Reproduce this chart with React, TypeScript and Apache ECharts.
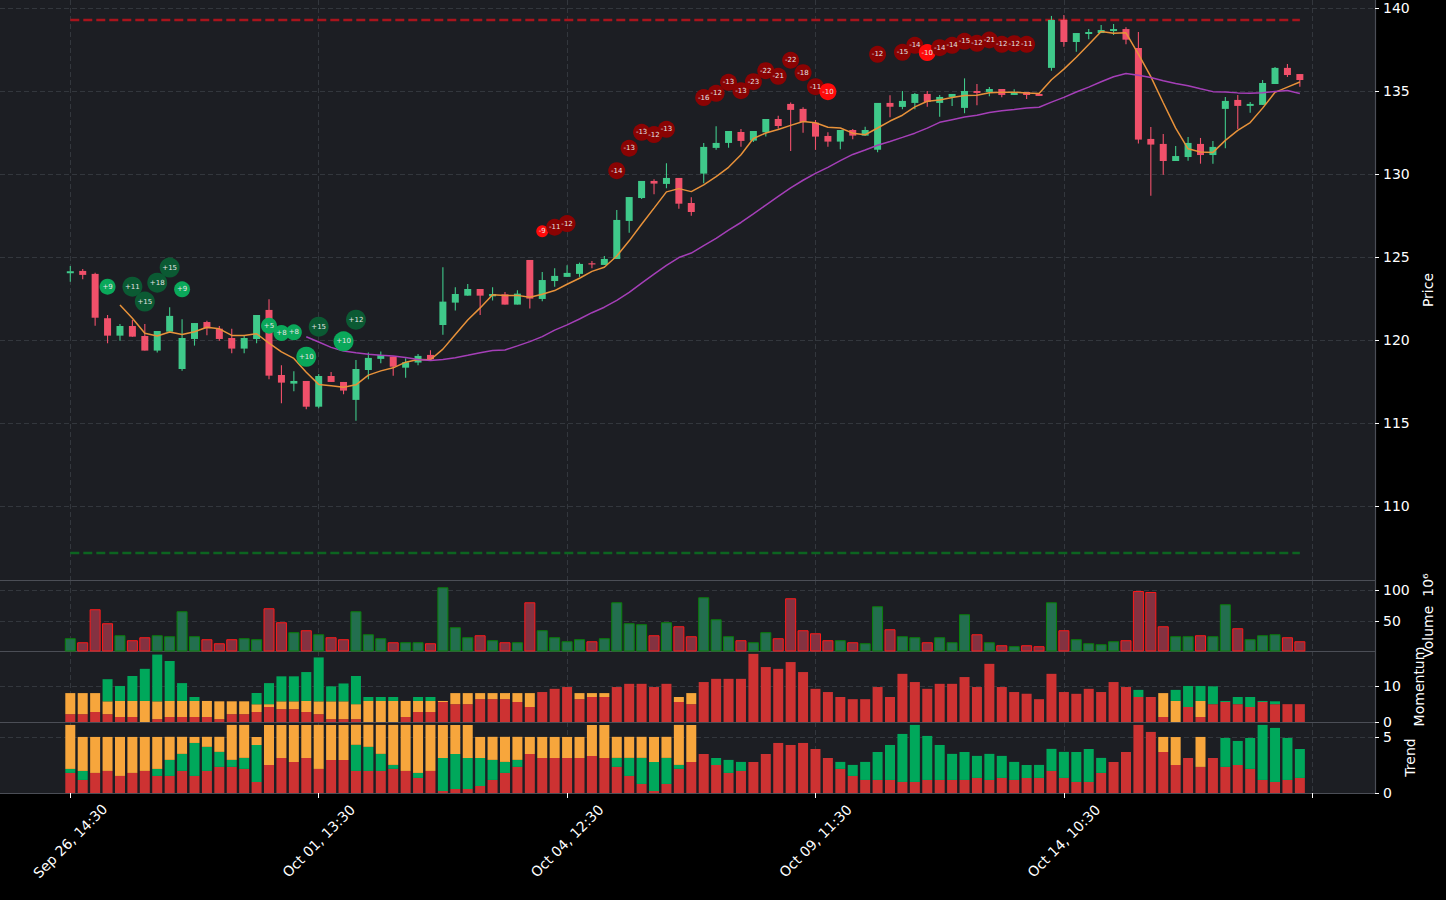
import React, { useEffect, useRef } from "react";
import * as echarts from "echarts";

// ---- data ----
const tickLabels = ["Sep 26, 14:30", "Oct 01, 13:30", "Oct 04, 12:30", "Oct 09, 11:30", "Oct 14, 10:30"];
const tickIdx = [0, 20, 40, 60, 80, 100];
const labelIdx = [0, 20, 40, 60, 80];

const open = [124.02,124.16,123.98,121.31,120.26,120.84,120.24,119.36,120.50,118.25,120.06,121.08,120.68,120.12,119.48,120.06,121.81,117.89,117.37,117.53,115.98,117.83,117.47,116.39,118.19,118.86,119.00,118.33,118.64,119.10,120.90,122.25,122.67,123.07,122.63,122.75,122.13,124.82,122.47,123.55,123.80,123.98,124.62,124.52,124.88,127.17,128.55,129.58,129.40,129.76,128.25,130.02,131.57,131.87,132.53,132.01,132.51,133.31,134.22,133.92,133.09,132.29,131.95,132.65,132.31,131.46,134.28,134.04,134.28,134.82,134.28,134.64,133.98,135.00,134.94,135.12,134.76,134.94,134.82,136.39,139.28,137.95,138.43,138.49,138.61,138.73,137.59,132.11,131.81,130.78,131.02,131.81,131.14,133.92,134.46,134.10,134.16,135.42,136.39,136.02];
const close = [124.14,123.92,121.34,120.26,120.84,120.20,119.36,120.54,121.45,120.12,121.02,120.70,120.06,119.48,120.12,121.51,117.85,117.43,117.53,115.98,117.83,117.47,116.95,118.25,118.92,119.10,118.39,118.66,119.04,118.84,122.31,122.77,123.07,122.67,122.77,122.13,122.79,122.49,123.61,123.86,124.04,124.58,124.56,124.88,127.23,128.61,129.58,129.42,129.76,128.21,127.71,131.63,131.87,132.59,131.99,132.59,133.31,132.89,133.86,133.13,132.25,131.95,132.65,132.31,132.65,134.28,134.05,134.40,134.82,134.34,134.64,134.82,135.00,134.88,135.12,134.76,134.88,134.76,134.70,139.28,137.95,138.49,138.55,138.67,138.73,138.09,132.07,131.77,130.78,131.08,131.87,131.14,131.63,134.40,134.10,134.22,135.48,136.39,135.96,135.66];
const low = [123.51,123.66,120.86,119.80,119.96,120.20,119.36,119.24,120.50,118.15,119.66,120.28,119.96,119.20,119.20,119.80,117.63,116.19,116.91,115.83,115.89,117.47,116.73,115.14,117.63,118.60,117.85,117.73,118.48,118.84,120.32,121.77,122.67,121.51,122.37,122.13,122.13,121.89,122.33,123.21,123.80,123.80,124.32,124.52,124.88,126.46,128.49,128.78,129.14,127.91,127.49,129.44,131.46,131.58,131.64,131.93,132.25,132.73,131.39,132.49,131.45,131.64,131.49,132.09,132.31,131.31,133.42,133.90,133.90,134.05,133.45,134.10,133.66,134.14,134.68,134.62,134.76,134.52,134.70,136.22,137.67,137.37,138.11,138.49,138.37,137.81,131.83,128.69,129.96,130.78,130.80,130.62,130.62,131.55,132.71,133.69,134.16,135.42,135.84,135.26];
const high = [124.46,124.28,124.05,121.51,120.96,121.20,120.96,120.54,121.97,121.25,121.02,121.16,120.84,120.68,120.30,121.51,122.45,118.48,118.11,117.53,117.95,118.07,117.47,118.80,119.24,119.30,119.00,118.90,119.16,119.38,124.38,123.17,123.37,123.07,123.17,122.89,122.99,124.82,124.10,124.32,124.50,124.66,124.76,125.06,127.83,128.61,129.58,129.68,130.64,129.76,128.60,131.87,132.87,132.59,132.71,132.59,133.31,133.51,134.30,134.02,133.25,132.51,132.65,132.71,132.85,134.28,134.74,135.00,134.88,135.00,134.76,134.82,135.76,135.42,135.24,135.12,135.10,134.94,134.82,139.52,139.58,138.49,138.73,138.98,139.04,138.84,138.55,132.83,132.41,131.69,132.23,132.17,131.99,134.64,134.76,134.34,135.66,136.45,136.63,136.02];

const volume = [22.6,16.1,69.4,46.8,27.4,19.4,24.2,27.4,25.8,66.1,25.8,21.0,14.5,21.0,22.6,21.0,71.0,48.4,32.3,35.5,29.0,24.2,21.0,66.1,29.0,22.6,16.1,16.1,16.1,14.5,104.8,40.3,24.2,27.4,19.4,16.1,16.1,80.6,35.5,24.2,17.7,21.0,17.7,22.6,80.6,46.8,45.2,27.4,48.4,41.9,25.8,88.7,53.2,25.8,19.4,16.1,32.3,22.6,87.1,35.5,30.6,19.4,19.4,16.1,14.5,74.2,37.1,25.8,24.2,16.1,24.2,16.1,61.3,29.0,16.1,11.3,9.7,11.3,9.7,80.6,35.5,21.0,14.5,12.9,17.7,19.4,98.9,97.3,41.9,25.8,25.8,27.4,25.8,77.4,38.7,21.0,27.4,29.0,24.2,17.7];

const momRed = [2.2,2.2,2.8,2.2,1.4,1.4,0,0.8,1.4,1.4,1.4,1.4,0.8,2.2,2.2,2.8,4.2,3.6,3.6,2.8,2.2,0.8,0.8,0.8,0,0,0,1.4,2.8,2.8,5.6,5.0,5.0,6.4,6.4,6.4,5.6,4.2,8.4,9.3,9.8,6.4,7.0,7.0,9.8,10.7,10.7,9.8,10.7,5.6,5.0,11.2,12.1,12.1,12.1,19.1,15.4,14.9,16.8,14.0,9.3,8.4,7.0,6.4,6.4,9.8,7.0,13.5,11.2,9.3,10.7,10.7,12.6,9.8,16.3,9.8,8.4,7.9,6.4,13.5,8.4,7.9,9.3,8.4,11.2,9.8,7.0,7.0,1.4,0,4.2,1.4,5.0,5.6,5.0,4.2,5.6,5.0,5.0,5.0];
const momOrange = [5.9,5.9,5.3,3.6,4.5,4.5,5.9,5.0,4.5,4.5,4.5,4.5,5.0,3.6,3.6,2.2,0.8,2.2,2.2,3.1,3.6,5.0,5.0,4.2,5.9,5.9,5.9,4.5,3.1,3.1,0.3,3.1,3.1,1.7,1.7,1.7,2.5,3.9,0,0,0,1.7,1.1,1.1,0,0,0,0,0,1.4,3.1,0,0,0,0,0,0,0,0,0,0,0,0,0,0,0,0,0,0,0,0,0,0,0,0,0,0,0,0,0,0,0,0,0,0,0,0,0,6.7,5.9,0,4.5,0,0,0,0,0,0,0,0];
const momGreen = [0,0,0,6.2,4.2,7.0,9.0,13.1,11.2,5.0,1.1,0,0,0,0,3.1,5.9,7.0,7.0,8.1,12.3,4.2,5.0,7.9,1.1,1.1,1.1,0,1.1,1.1,0,0,0,0,0,0,0,0,0,0,0,0,0,0,0,0,0,0,0,0,0,0,0,0,0,0,0,0,0,0,0,0,0,0,0,0,0,0,0,0,0,0,0,0,0,0,0,0,0,0,0,0,0,0,0,0,2.0,0,0,3.1,5.9,4.2,5.0,0.3,2.0,2.8,0.3,0.8,0,0];

const trendRed = [1.80,1.17,1.80,1.98,1.53,1.80,1.98,1.53,1.53,1.98,1.53,1.98,2.34,2.34,2.16,0.99,2.51,3.14,2.78,3.14,2.16,2.96,2.96,1.98,1.98,1.98,2.16,1.98,1.35,1.98,0.18,0.36,0.36,0.63,1.17,1.80,2.34,3.50,3.14,3.14,3.14,3.14,3.32,3.14,2.34,1.53,0.81,0.18,0.81,2.16,2.78,3.50,2.51,1.80,1.98,2.78,3.50,4.49,4.31,4.49,3.95,3.14,2.16,1.53,1.17,1.17,1.17,0.99,0.99,1.17,1.17,1.17,1.17,1.35,1.17,1.35,1.17,1.35,1.35,1.98,1.35,0.99,0.99,1.80,2.78,3.68,6.11,5.48,3.68,2.51,3.14,2.34,3.14,2.34,2.51,2.16,1.17,0.99,1.17,1.35];
const trendGreen = [0.36,0.81,0,0,0,0,0,0.63,1.44,1.53,2.96,2.16,1.35,0.63,0.99,3.32,0,0,0,0,0,0,0,2.34,2.16,1.53,0.36,0,0.45,0,2.96,3.14,2.78,2.51,1.80,0.99,0.63,0,0,0,0,0,0,0,0.81,1.62,2.34,2.60,2.34,0.36,0,0,0.63,1.17,0.81,0,0,0,0,0,0,0,0.63,0.99,1.62,2.51,3.14,4.31,5.12,3.95,3.14,2.34,2.51,1.98,2.34,1.98,1.62,1.17,1.17,1.98,2.34,2.69,2.96,1.35,0,0,0,0,0,0,0,0,0,2.60,2.16,2.78,4.94,4.85,3.77,2.60];
const trendOrange = [3.95,3.05,3.23,3.05,3.50,3.23,3.05,2.87,2.07,1.53,0.54,0.90,1.35,3.14,2.96,0.72,3.59,2.96,3.32,2.96,3.95,3.14,3.14,1.80,1.98,2.60,3.59,4.13,4.31,4.13,2.96,2.60,2.96,1.89,2.07,2.25,2.07,1.53,1.89,1.89,1.89,1.89,2.78,2.96,1.89,1.89,1.89,2.25,1.89,3.59,3.32,0,0,0,0,0,0,0,0,0,0,0,0,0,0,0,0,0,0,0,0,0,0,0,0,0,0,0,0,0,0,0,0,0,0,0,0,0,1.35,2.51,0,2.69,0,0,0,0,0,0,0,0];

const buySigIdx = [3, 5, 6, 7, 8, 9, 16, 17, 18, 19, 20, 22, 23];
const buySigPrice = [123.21, 123.21, 122.31, 123.45, 124.36, 123.05, 120.86, 120.42, 120.46, 118.99, 120.80, 119.92, 121.22];
const buySigVal = [9, 11, 15, 18, 15, 9, 5, 8, 8, 10, 15, 10, 12];

const sellSigIdx = [38, 39, 40, 44, 45, 46, 47, 48, 51, 52, 53, 54, 55, 56, 57, 58, 59, 60, 61, 65, 67, 68, 69, 70, 71, 72, 73, 74, 75, 76, 77];
const sellSigPrice = [126.55, 126.79, 127.01, 130.20, 131.55, 132.51, 132.37, 132.69, 134.60, 134.86, 135.52, 135.02, 135.56, 136.22, 135.88, 136.85, 136.10, 135.26, 134.96, 137.21, 137.33, 137.75, 137.31, 137.61, 137.75, 137.99, 137.87, 138.07, 137.81, 137.85, 137.81];
const sellSigVal = [-9, -11, -12, -14, -13, -13, -12, -13, -16, -12, -13, -13, -23, -22, -21, -22, -18, -11, -10, -12, -15, -14, -10, -14, -14, -15, -12, -21, -12, -12, -11];

const resistance = 139.28;
const support = 107.17;

// ---- styling ----
const FONT = "DejaVu Sans";
const TXT = "#ffffff";
const GRIDC = "#3a3d44";
const SPINE = "#4b4e56";
const UP = "#3fc98a";
const DOWN = "#f0506a";
const RED = "#cd3232";
const ORANGE = "#f7a63c";
const GREEN = "#00a85b";
const X_MIN = -5.66;
const X_MAX = 105.05;

function sma(arr: number[], n: number) {
  const out: [number, number][] = [];
  for (let i = n - 1; i < arr.length; i++) {
    let s = 0;
    for (let k = i - n + 1; k <= i; k++) s += arr[k];
    out.push([i, s / n]);
  }
  return out;
}

export default function App() {
  const ref = useRef<HTMLDivElement>(null);
  useEffect(() => {
    if (!ref.current) return;
    const chart = echarts.init(ref.current, null, { renderer: "svg" });

    const grids = [
      { left: 0, top: 0, width: 1375, height: 580 },
      { left: 0, top: 580, width: 1375, height: 71 },
      { left: 0, top: 651, width: 1375, height: 71 },
      { left: 0, top: 722, width: 1375, height: 71 },
    ];

    const xAxes = grids.map((_, gi) => ({
      type: "value",
      gridIndex: gi,
      min: X_MIN,
      max: X_MAX,
      axisLine: { show: true, onZero: false, lineStyle: { color: SPINE, width: 1.2 } },
      axisTick: { show: gi === 3, customValues: tickIdx, length: 5, lineStyle: { color: TXT } },
      axisLabel: {
        show: gi === 3,
        customValues: labelIdx,
        formatter: (v: number) => tickLabels[Math.round(v / 20)] ?? "",
        rotate: 45,
        align: "center",
        verticalAlign: "middle",
        margin: 48,
        color: TXT,
        fontSize: 14,
        fontFamily: FONT,
      },
      splitLine: { show: true, lineStyle: { color: GRIDC, type: [5, 3], width: 0.8 } },
    }));

    const yBase = (gi: number, min: number, max: number, vals: number[], name: string, gap: number) => ({
      type: "value",
      gridIndex: gi,
      position: "right",
      min,
      max,
      name,
      nameLocation: "middle",
      nameRotate: 90,
      nameGap: gap,
      nameTextStyle: { color: TXT, fontSize: 14, fontFamily: FONT },
      axisLine: { show: true, onZero: false, lineStyle: { color: SPINE, width: 1.2 } },
      axisTick: { show: true, customValues: vals, length: 4, lineStyle: { color: TXT } },
      axisLabel: { show: true, customValues: vals, margin: 8, color: TXT, fontSize: 14, fontFamily: FONT },
      splitLine: { show: true, lineStyle: { color: GRIDC, type: [5, 3], width: 0.8 } },
    });

    const yAxes = [
      yBase(0, 105.54, 140.48, [110, 115, 120, 125, 130, 135, 140], "Price", 37),
      yBase(1, 2, 116.6, [50, 100], "Volume  10\u2076", 40),
      yBase(2, 0, 19.9, [0, 10], "Momentum", 27),
      yBase(3, 0, 6.37, [0, 5], "Trend", 20),
    ];

    const candleData = open.map((o, i) => [i, o, close[i], low[i], high[i]]);

    const candles = {
      type: "custom",
      xAxisIndex: 0,
      yAxisIndex: 0,
      z: 3,
      clip: true,
      encode: { x: 0, y: [1, 2, 3, 4] },
      data: candleData,
      renderItem: (params: any, api: any) => {
        const x = api.value(0);
        const o = api.value(1);
        const c = api.value(2);
        const l = api.value(3);
        const h = api.value(4);
        const pO = api.coord([x, o]);
        const pC = api.coord([x, c]);
        const pL = api.coord([x, l]);
        const pH = api.coord([x, h]);
        const color = c >= o ? UP : DOWN;
        const w = 7;
        const top = Math.min(pO[1], pC[1]);
        const hh = Math.max(1.2, Math.abs(pO[1] - pC[1]));
        return {
          type: "group",
          children: [
            { type: "line", shape: { x1: pH[0], y1: pH[1], x2: pL[0], y2: pL[1] }, style: { stroke: color, lineWidth: 1.1 } },
            { type: "rect", shape: { x: pO[0] - w / 2, y: top, width: w, height: hh }, style: { fill: color } },
          ],
        };
      },
    };

    const bubbleSeries = (idx: number[], price: number[], val: number[], buy: boolean) => ({
      type: "scatter",
      xAxisIndex: 0,
      yAxisIndex: 0,
      z: 6,
      data: idx.map((x, k) => [x, price[k], val[k]]),
      symbolSize: (d: number[]) => {
        const a = Math.abs(d[2]);
        if (buy) return a >= 10 ? 20 : 16;
        return a < 10 ? 12 : 17;
      },
      itemStyle: {
        opacity: 1,
        color: (p: any) => {
          const a = Math.abs(p.data[2]);
          if (buy) return a > 10 ? "#0b5a33" : "#0aa85a";
          return a > 10 ? "#8a0303" : "#ff0a0a";
        },
      },
      label: {
        show: true,
        position: "inside",
        formatter: (p: any) => (p.data[2] > 0 ? "+" + p.data[2] : String(p.data[2])),
        color: "#e4e4e4",
        fontSize: 7,
        fontFamily: FONT,
      },
      emphasis: { disabled: true },
    });

    const hLine = (v: number, color: string) => ({
      type: "line",
      xAxisIndex: 0,
      yAxisIndex: 0,
      z: 2,
      data: [[0, v], [99, v]],
      showSymbol: false,
      lineStyle: { color, width: 2.5, type: [9, 4] },
    });

    const volData = volume.map((v, i) => ({
      value: [i, v],
      itemStyle: close[i] >= open[i]
        ? { color: "#236f4f", borderColor: "#0a800a", borderWidth: 1 }
        : { color: "#843241", borderColor: "#ff1a1a", borderWidth: 1 },
    }));

    // stacked bars, bottom-to-top in the order of the given arrays/colours
    const stacked = (gi: number, parts: number[][], colors: string[]) => ({
      type: "custom",
      xAxisIndex: gi,
      yAxisIndex: gi,
      clip: true,
      encode: { x: 0, y: 1 },
      data: parts[0].map((_, i) => [i, ...parts.map((p) => p[i])]),
      renderItem: (params: any, api: any) => {
        const x = api.value(0);
        let base = 0;
        const children: any[] = [];
        colors.forEach((col, k) => {
          const v = api.value(k + 1);
          if (v > 0) {
            const p0 = api.coord([x, base]);
            const p1 = api.coord([x, base + v]);
            children.push({
              type: "rect",
              shape: { x: p0[0] - 5, y: p1[1], width: 10, height: p0[1] - p1[1] },
              style: { fill: col },
            });
          }
          base += v;
        });
        return { type: "group", children };
      },
    });

    chart.setOption({
      animation: false,
      backgroundColor: "#000000",
      grid: grids.map((g) => ({ ...g, show: true, backgroundColor: "#1c1e23", borderWidth: 0 })),
      xAxis: xAxes,
      yAxis: yAxes,
      series: [
        hLine(resistance, "#a8141c"),
        hLine(support, "#0c6420"),
        candles,
        {
          type: "line",
          xAxisIndex: 0,
          yAxisIndex: 0,
          z: 4,
          data: sma(close, 5),
          showSymbol: false,
          lineStyle: { color: "#e8923a", width: 1.5 },
        },
        {
          type: "line",
          xAxisIndex: 0,
          yAxisIndex: 0,
          z: 4,
          data: sma(close, 20),
          showSymbol: false,
          lineStyle: { color: "#a53fb8", width: 1.5 },
        },
        bubbleSeries(buySigIdx, buySigPrice, buySigVal, true),
        bubbleSeries(sellSigIdx, sellSigPrice, sellSigVal, false),
        {
          type: "bar",
          xAxisIndex: 1,
          yAxisIndex: 1,
          barWidth: 11,
          data: volData,
        },
        stacked(2, [momRed, momOrange, momGreen], [RED, ORANGE, GREEN]),
        stacked(3, [trendRed, trendGreen, trendOrange], [RED, GREEN, ORANGE]),
      ],
    });
    return () => chart.dispose();
  }, []);

  return (
    <div style={{ position: "absolute", left: 0, top: 0, width: 1446, height: 900, background: "#000" }}>
      <div ref={ref} style={{ width: 1446, height: 900 }} />
    </div>
  );
}
